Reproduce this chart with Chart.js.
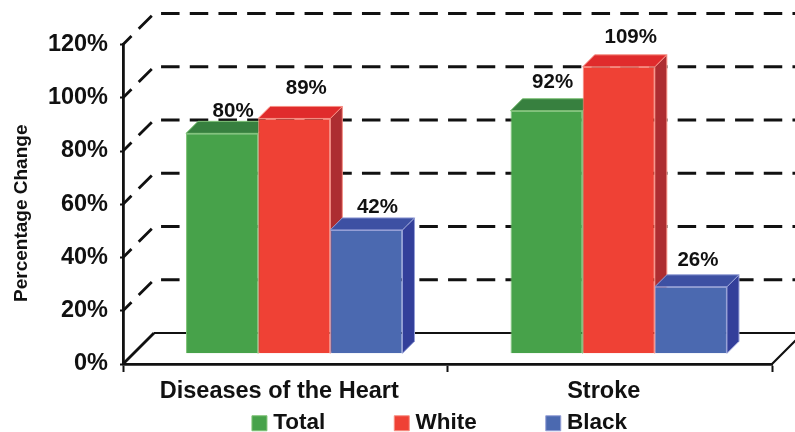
<!DOCTYPE html>
<html>
<head>
<meta charset="utf-8">
<style>html,body{margin:0;padding:0;background:#fff}#wrap{width:795px;height:432px}</style>
<script src="https://cdn.jsdelivr.net/npm/chart.js@4"></script>
</head>
<body>
<div id="wrap"><canvas id="c" width="795" height="432"></canvas></div>
<script>
const categories = ['Diseases of the Heart', 'Stroke'];
const seriesNames = ['Total', 'White', 'Black'];
// Heights as drawn in the picture, read against the wall scale
const totalHeights = [82.7, 91.2];
const whiteHeights = [88.3, 107.7];
const blackHeights = [46.4, 25.0];
// Values as printed above the bars
const totalLabels = ['80%', '92%'];
const whiteLabels = ['89%', '109%'];
const blackLabels = ['42%', '26%'];
const yTicks = [0, 20, 40, 60, 80, 100, 120];

const FONT = '"Liberation Sans", Arial, sans-serif';
const INK = '#111111';
const look = [
  {front:'#47A24A', edge:'#7FC277', top:'#37803F', side:'#2F7337'},
  {front:'#EF4135', edge:'#F68F84', top:'#E02B2C', side:'#AD2D31'},
  {front:'#4B69B0', edge:'#959FD6', top:'#3D50A3', side:'#333F9A'}
];
const wallDepth = 31;      // floor/wall receding offset
const barDepth = 12;       // depth of each cuboid
const barShift = 9;        // bars stand forward of the axis centre

const box3d = {
  id: 'box3d',
  afterLayout(chart) {
    const lg = chart.legend;
    lg.left += 56; lg.right += 56;
    lg.top = 412 - chart.options.plugins.legend.labels.padding;
    const y = chart.scales.y;
    const drawTitle = y.drawTitle;
    y.drawTitle = function () {
      chart.ctx.save();
      chart.ctx.translate(0, 9);
      drawTitle.call(this);
      chart.ctx.restore();
    };
  },
  beforeDatasetsDraw(chart) {
    const {ctx, scales} = chart;
    const y = scales.y, area = chart.chartArea;
    ctx.save();
    ctx.strokeStyle = INK;
    // walls
    yTicks.forEach(t => {
      const py = y.getPixelForValue(t);
      ctx.lineWidth = 2.8;
      ctx.beginPath();
      ctx.moveTo(area.left, py);
      ctx.lineTo(area.left + wallDepth, py - wallDepth);
      if (t === 0) {
        ctx.stroke();
        ctx.lineWidth = 2.2;
        ctx.beginPath();
        ctx.moveTo(area.left + wallDepth, py - wallDepth);
        ctx.lineTo(chart.width, py - wallDepth);
        ctx.moveTo(area.right, py);
        ctx.lineTo(area.right + wallDepth, py - wallDepth);
      } else {
        ctx.setLineDash([18.5, 10.2]);
        ctx.lineDashOffset = 6.5;
        ctx.lineTo(chart.width, py - wallDepth);
      }
      ctx.stroke();
      ctx.setLineDash([]);
    });
    ctx.lineDashOffset = 0;
    // cuboid tops and sides, then the library paints the fronts over them
    ctx.translate(barShift, 0);
    ctx.lineWidth = 1;
    chart.data.datasets.forEach((ds, di) => {
      chart.getDatasetMeta(di).data.forEach(bar => {
        const l = bar.x - bar.width / 2, r = bar.x + bar.width / 2;
        const t = bar.y, b = bar.base, d = barDepth;
        ctx.strokeStyle = look[di].edge;
        ctx.fillStyle = look[di].side;
        ctx.beginPath();
        ctx.moveTo(r, t); ctx.lineTo(r + d, t - d); ctx.lineTo(r + d, b - d); ctx.lineTo(r, b);
        ctx.closePath(); ctx.fill(); ctx.stroke();
        ctx.fillStyle = look[di].top;
        ctx.beginPath();
        ctx.moveTo(l, t); ctx.lineTo(l + d, t - d); ctx.lineTo(r + d, t - d); ctx.lineTo(r, t);
        ctx.closePath(); ctx.fill(); ctx.stroke();
      });
    });
  },
  afterDatasetsDraw(chart) {
    const {ctx} = chart;
    ctx.restore();
    ctx.save();
    ctx.font = 'bold 20.5px ' + FONT;
    ctx.fillStyle = INK;
    ctx.textAlign = 'center';
    ctx.textBaseline = 'middle';
    const nudge = chart.options.plugins.box3d.labelNudge;
    chart.data.datasets.forEach((ds, di) => {
      chart.getDatasetMeta(di).data.forEach((bar, i) => {
        const n = nudge[di][i];
        ctx.fillText(ds.printed[i], bar.x + barShift + n[0], bar.y + n[1]);
      });
    });
    ctx.restore();
  }
};

const heights = [totalHeights, whiteHeights, blackHeights];
const printed = [totalLabels, whiteLabels, blackLabels];

new Chart(document.getElementById('c'), {
  type: 'bar',
  plugins: [box3d],
  data: {
    labels: categories,
    datasets: seriesNames.map((name, i) => ({
      label: name,
      data: heights[i],
      printed: printed[i],
      yAxisID: 'planeY',
      backgroundColor: look[i].front,
      borderColor: look[i].edge,
      borderWidth: 1,
      categoryPercentage: 0.667,
      barPercentage: 1
    }))
  },
  options: {
    responsive: false,
    animation: false,
    events: [],
    layout: {padding: {left: 0, right: 23, top: 44.5, bottom: 0}},
    scales: {
      x: {
        afterFit: s => { s.height = 38; },
        border: {color: INK, width: 2.8},
        grid: {drawOnChartArea: false, drawTicks: true, tickLength: 8, tickColor: INK, tickWidth: 2},
        ticks: {color: INK, padding: 5, maxRotation: 0, labelOffset: -6, font: {family: FONT, size: 23.5, weight: 'bold'}}
      },
      y: {
        min: 0, max: 120,
        afterFit: s => { s.width = 123; },
        afterBuildTicks: s => { s.ticks = yTicks.map(v => ({value: v})); },
        border: {color: INK, width: 2.8},
        grid: {drawOnChartArea: false, drawTicks: true, tickLength: 3, tickColor: INK, tickWidth: 2},
        ticks: {color: INK, padding: 12, callback: v => v + '%', font: {family: FONT, size: 23.5, weight: 'bold'}},
        title: {display: true, text: 'Percentage Change', color: INK, padding: {top: 10, bottom: 0}, font: {family: FONT, size: 19, weight: 'bold'}}
      },
      planeY: {display: false, min: -4.02, max: 116.1}
    },
    plugins: {
      title: {display: false},
      tooltip: {enabled: false},
      legend: {
        position: 'bottom',
        maxHeight: 30,
        labels: {
          color: INK,
          usePointStyle: true,
          pointStyle: 'rect',
          boxWidth: 5,
          boxHeight: 15,
          padding: 74,
          font: {family: FONT, size: 22.5, weight: 'bold'}
        }
      },
      box3d: {
        labelNudge: [
          [[11, -22], [6, -28]],
          [[12, -30], [12, -29]],
          [[11, -23], [7, -26]]
        ]
      }
    }
  }
});
</script>
</body>
</html>
